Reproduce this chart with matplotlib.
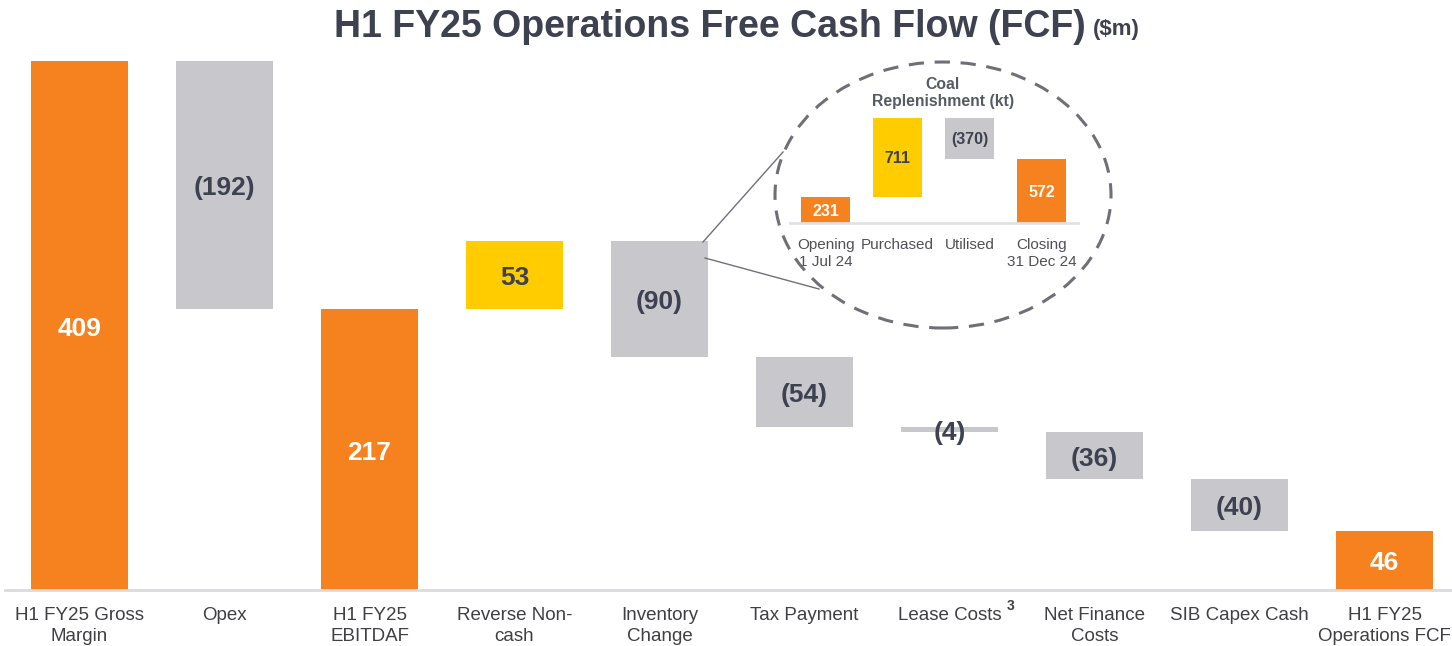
import numpy as np
import matplotlib
matplotlib.use("Agg")
from matplotlib import pyplot as plt
from matplotlib.patches import Ellipse

plt.rcParams["font.family"] = ["Liberation Sans", "DejaVu Sans"]

# ---- main waterfall data ($m) ----
categories = ["H1 FY25 Gross\nMargin", "Opex", "H1 FY25\nEBITDAF", "Reverse Non-\ncash",
              "Inventory\nChange", "Tax Payment", "Lease Costs", "Net Finance\nCosts",
              "SIB Capex Cash", "H1 FY25\nOperations FCF"]
values = [409, -192, 217, 53, -90, -54, -4, -36, -40, 46]
kinds = ["total", "delta", "total", "delta", "delta", "delta", "delta", "delta", "delta", "total"]

# ---- inset: coal replenishment (kt) ----
coal_labels = ["Opening\n1 Jul 24", "Purchased", "Utilised", "Closing\n31 Dec 24"]
coal_values = [231, 711, -370, 572]
coal_kinds = ["total", "delta", "delta", "total"]

ORANGE = "#F5821F"
GREY = "#C8C8CC"
YELLOW = "#FFCC00"
DARK = "#3D4150"
LABEL = "#404044"


def waterfall(vals, kinds):
    bottoms, heights, colors = [], [], []
    run = 0
    for v, k in zip(vals, kinds):
        if k == "total":
            bottoms.append(0)
            heights.append(v)
            colors.append(ORANGE)
            run = v
        else:
            if v >= 0:
                bottoms.append(run)
                colors.append(YELLOW)
            else:
                bottoms.append(run + v)
                colors.append(GREY)
            heights.append(abs(v))
            run += v
    return np.array(bottoms), np.array(heights), colors


def fmt(v):
    return "(%d)" % abs(v) if v < 0 else "%d" % v


fig = plt.figure(figsize=(14.52, 6.46), dpi=100)
W, H = 1452, 646

# main axes
ax = fig.add_axes([5 / W, (H - 590) / H, 1 - 5 / W, 529 / H])
x = np.arange(len(values))
b, h, c = waterfall(values, kinds)
ax.bar(x, h, bottom=b, color=c, width=0.67)
for xi, bi, hi, ci, v in zip(x, b, h, c, values):
    tc = "white" if ci == ORANGE else DARK
    ax.text(xi, bi + hi / 2 - 2.5, fmt(v), ha="center", va="center", fontsize=19,
            fontweight="bold", color=tc)
ax.set_xlim(-0.514, 9.465)
ax.set_ylim(0, 409)
for s in ["top", "right", "left"]:
    ax.spines[s].set_visible(False)
ax.spines["bottom"].set_color("#DADADF")
ax.spines["bottom"].set_linewidth(2)
ax.set_yticks([])
ax.set_xticks(x)
ax.set_xticklabels(categories, fontsize=13.5, color=LABEL, linespacing=1.32)
ax.tick_params(axis="x", length=0, pad=12)
fig.text(1011 / W, 1 - 606 / H, "3", fontsize=10, color=LABEL, ha="center", va="center",
         fontweight="bold")

# title
fig.text(1086 / W, 1 - 27 / H, "H1 FY25 Operations Free Cash Flow (FCF)", fontsize=27,
         fontweight="bold", color=DARK, ha="right", va="center")
fig.text(1093 / W, 1 - 30 / H, "($m)", fontsize=16, fontweight="bold", color=DARK,
         ha="left", va="center")

# dashed ellipse + connector lines
ell = Ellipse((943 / W, 1 - 195 / H), 336 / W, 266 / H, transform=fig.transFigure,
              fill=False, edgecolor="#6E6F78", linestyle=(0, (5, 3.5)), linewidth=2.2)
fig.add_artist(ell)
fig.add_artist(plt.Line2D([703 / W, 783 / W], [1 - 242 / H, 1 - 152 / H],
                          transform=fig.transFigure, color="#707078", linewidth=1))
fig.add_artist(plt.Line2D([705 / W, 819 / W], [1 - 258 / H, 1 - 289 / H],
                          transform=fig.transFigure, color="#707078", linewidth=1))

# inset axes
ai = fig.add_axes([789.5 / W, (H - 223) / H, 288.5 / W, 105 / H])
xi_ = np.arange(len(coal_values))
cb, ch, cc = waterfall(coal_values, coal_kinds)
ai.bar(xi_, ch, bottom=cb, color=cc, width=0.68)
for xx, bb, hh, col, v in zip(xi_, cb, ch, cc, coal_values):
    tc = "white" if col == ORANGE else DARK
    ai.text(xx, bb + hh / 2 - 10, fmt(v), ha="center", va="center", fontsize=11.5,
            fontweight="bold", color=tc)
ai.set_xlim(-0.5, 3.5)
ai.set_ylim(0, 942)
ai.patch.set_alpha(0)
for s in ["top", "right", "left"]:
    ai.spines[s].set_visible(False)
ai.spines["bottom"].set_color("#E0E0E8")
ai.spines["bottom"].set_linewidth(2)
ai.set_yticks([])
ai.set_xticks(xi_)
ai.set_xticklabels(coal_labels, fontsize=11, color="#505058", linespacing=1.25)
ai.tick_params(axis="x", length=0, pad=11)
fig.text(943 / W, 1 - 93 / H, "Coal\nReplenishment (kt)", fontsize=11.3, fontweight="bold",
         color="#555A64", ha="center", va="center", linespacing=1.15)

fig.savefig("out.png", dpi=100)
